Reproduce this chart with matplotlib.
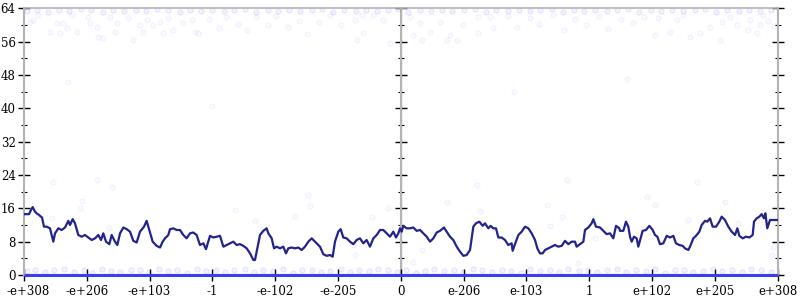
import matplotlib
matplotlib.use("Agg")
import matplotlib.pyplot as plt
import matplotlib.transforms as mtransforms
import numpy as np

# ---------------- data ----------------
tick_pos = [-6, -5, -4, -3, -2, -1, 0, 1, 2, 3, 4, 5, 6]
tick_labels = ["-e+308", "-e+206", "-e+103", "-1", "-e-102", "-e-205", "0",
               "e-206", "e-103", "1", "e+102", "e+205", "e+308"]
y_ticks = [0, 8, 16, 24, 32, 40, 48, 56, 64]

line_x = [-6.000, -5.920, -5.889, -5.862, -5.825, -5.798, -5.761, -5.713, -5.682, -5.639,
          -5.586, -5.533, -5.506, -5.453, -5.400, -5.347, -5.294, -5.268, -5.225, -5.188,
          -5.135, -5.082, -5.029, -4.976, -4.922, -4.869, -4.816, -4.774, -4.737, -4.694,
          -4.641, -4.604, -4.551, -4.514, -4.471, -4.418, -4.365, -4.312, -4.259, -4.206,
          -4.153, -4.089, -4.047, -4.004, -3.951, -3.888, -3.834, -3.792, -3.755, -3.702,
          -3.675, -3.622, -3.569, -3.516, -3.463, -3.410, -3.357, -3.304, -3.251, -3.198,
          -3.144, -3.102, -3.065, -3.038, -2.985, -2.932, -2.879, -2.826, -2.773, -2.720,
          -2.667, -2.614, -2.561, -2.508, -2.454, -2.401, -2.348, -2.322, -2.285, -2.242,
          -2.189, -2.136, -2.109, -2.056, -2.019, -1.977, -1.924, -1.871, -1.828, -1.791,
          -1.738, -1.685, -1.632, -1.579, -1.526, -1.472, -1.419, -1.366, -1.313,
          -1.287, -1.234, -1.180, -1.127, -1.085, -1.048, -0.995, -0.958, -0.915, -0.862,
          -0.809, -0.756, -0.703, -0.650, -0.597, -0.544, -0.491, -0.437, -0.384, -0.331,
          -0.278, -0.225, -0.172, -0.119, -0.076, -0.039, -0.013, 0.014, 0.040, 0.093,
          0.146, 0.199, 0.253, 0.306, 0.359, 0.412, 0.465, 0.518, 0.571, 0.624,
          0.688, 0.730, 0.783, 0.836, 0.890, 0.943, 0.996, 1.049,
          1.102, 1.155, 1.197, 1.251, 1.304, 1.341, 1.394, 1.431, 1.473, 1.516,
          1.553, 1.606, 1.659, 1.712, 1.765, 1.781, 1.818, 1.872, 1.925, 1.978,
          2.031, 2.084, 2.137, 2.174, 2.216, 2.259, 2.296, 2.349, 2.402, 2.455,
          2.508, 2.562, 2.615, 2.668, 2.721, 2.774, 2.800, 2.853, 2.907, 2.933,
          2.986, 3.039, 3.066, 3.108, 3.172, 3.225, 3.278, 3.331, 3.384, 3.427, 3.480,
          3.490, 3.543, 3.586, 3.623, 3.650, 3.676, 3.713, 3.756, 3.782, 3.819,
          3.851, 3.904, 3.958, 4.011, 4.048, 4.085, 4.127, 4.180, 4.234, 4.287,
          4.340, 4.382, 4.435, 4.488, 4.525, 4.579, 4.616, 4.658, 4.701, 4.754,
          4.791, 4.844, 4.881, 4.924, 4.966, 5.019, 5.072, 5.109, 5.162, 5.215,
          5.269, 5.322, 5.359, 5.391, 5.444, 5.497, 5.550, 5.603, 5.624, 5.667,
          5.709, 5.746, 5.783, 5.805, 5.836, 5.879, 5.932, 6.000]
line_y = [14.6, 14.6, 15.6, 16.3, 15.2, 14.8, 14.4, 13.8, 11.6, 11.6,
          11.2, 8.0, 10.0, 11.2, 10.8, 11.4, 13.0, 12.0, 13.4, 12.4,
          9.6, 9.2, 9.6, 9.0, 8.4, 8.8, 9.6, 8.4, 10.0, 8.0,
          7.4, 9.6, 8.0, 7.2, 10.0, 11.4, 11.0, 10.4, 8.2, 7.8,
          10.4, 11.6, 13.0, 10.8, 8.0, 7.0, 6.6, 8.0, 8.8, 9.6,
          11.0, 11.2, 10.8, 10.8, 9.6, 8.8, 10.0, 10.2, 9.6, 7.2,
          7.6, 6.2, 8.0, 9.4, 9.0, 9.2, 9.4, 6.8, 7.2, 7.6,
          8.0, 7.2, 7.4, 7.0, 6.4, 5.2, 3.6, 3.6, 6.4, 9.6,
          10.6, 11.2, 10.0, 8.8, 6.4, 6.8, 6.4, 6.8, 5.2, 6.4,
          6.6, 6.4, 6.6, 6.0, 6.8, 8.0, 8.8, 8.0, 7.2,
          6.8, 5.0, 4.6, 4.8, 4.4, 8.0, 10.4, 11.0, 9.0, 8.8,
          8.0, 7.4, 8.4, 8.8, 7.6, 8.4, 6.8, 8.8, 9.6, 10.8,
          10.8, 10.0, 9.2, 10.4, 9.0, 10.0, 11.2, 10.4, 11.8, 11.2,
          11.2, 11.4, 10.6, 10.8, 10.0, 9.2, 8.0, 8.8, 10.2, 10.6,
          11.4, 10.4, 9.2, 8.4, 6.8, 5.6, 4.6, 4.8,
          6.0, 11.6, 12.4, 12.8, 11.8, 12.4, 11.2, 11.8, 11.2, 11.2,
          9.0, 9.0, 8.4, 7.2, 7.6, 5.8, 7.4, 9.6, 10.4, 11.6,
          11.2, 10.0, 8.4, 6.4, 5.2, 5.2, 6.0, 6.4, 6.8, 7.2,
          6.8, 7.0, 8.2, 7.4, 8.0, 8.0, 6.8, 7.4, 8.0, 10.8,
          11.4, 12.4, 13.4, 11.6, 11.4, 10.6, 9.8, 10.0, 8.8, 11.8, 11.2,
          10.6, 10.6, 12.8, 11.6, 9.2, 8.0, 9.2, 8.8, 6.8, 8.8,
          10.6, 10.8, 11.8, 10.8, 9.6, 9.2, 7.4, 7.6, 9.4, 9.0,
          9.4, 7.6, 7.2, 7.0, 6.4, 6.0, 7.2, 8.8, 9.4, 10.4,
          12.0, 13.0, 12.8, 13.6, 11.6, 11.6, 12.8, 14.0, 13.2, 11.6,
          10.4, 9.6, 11.2, 9.4, 8.8, 9.2, 9.0, 9.6, 12.8, 13.6,
          14.0, 14.6, 13.6, 14.8, 11.2, 13.2, 13.2, 13.2]

# individual samples (faint dots): near the top
top_x = [-5.90, -5.86, -5.78, -5.59, -5.47, -5.43, -5.38, -5.32, -5.24, -5.16,
         -4.98, -4.95, -4.84, -4.82, -4.74, -4.63, -4.52, -4.55, -4.34, -4.26,
         -4.15, -4.11, -4.04, -3.95, -3.83, -3.79, -3.71, -3.63, -3.47, -3.32,
         -3.28, -3.23, -3.05, -2.90, -2.78, -2.60, -2.45, -2.30, -2.12, -1.98,
         -1.80, -1.62, -1.50, -1.30, -1.12, -0.95, -0.73, -0.62, -0.60, -0.44,
         -0.28, -0.70, -0.17, 0.15, 0.31, 0.19, 0.34, 0.46, 0.62, 0.78,
         0.74, 0.89, 0.99, 1.23, 1.42, 1.23, 1.47, 1.70, 1.85, 2.05,
         2.20, 2.42, 2.60, 2.78, 2.95, 3.15, 3.30, 3.50, 3.70, 3.88,
         4.05, 4.10, 4.29, 4.40, 4.49, 4.61, 4.76, 4.92, 5.08, 5.11,
         5.24, 5.35, 5.53, 5.56, 5.67, 5.72, 5.77, 5.85, 5.95]
top_y = [60.7, 61.2, 62.4, 58.3, 60.5, 58.1, 60.5, 59.3, 62.4, 58.3,
         61.9, 60.5, 59.5, 57.1, 56.9, 61.9, 60.5, 58.3, 61.7, 56.4,
         60.0, 58.3, 61.2, 60.0, 60.7, 58.1, 61.7, 58.8, 60.5, 61.2,
         58.3, 58.1, 61.5, 59.2, 62.0, 60.3, 58.7, 61.8, 60.1, 62.2,
         59.6, 61.0, 57.8, 60.8, 62.3, 59.9, 61.2, 62.4, 58.1, 62.4,
         61.2, 56.4, 55.7, 61.9, 60.5, 57.6, 56.4, 58.3, 60.7, 57.6,
         56.4, 56.4, 60.0, 61.9, 61.9, 58.1, 59.3, 62.1, 59.4, 61.6,
         60.2, 62.3, 58.9, 61.4, 60.0, 62.2, 59.1, 61.5, 60.4, 62.0,
         57.6, 61.7, 58.3, 61.2, 62.4, 57.1, 58.1, 59.5, 56.4, 60.7,
         61.9, 60.0, 58.8, 61.2, 58.1, 60.0, 62.4, 61.0, 59.8]

# dense band right under 64
band_hi_x = [-5.95, -5.80, -5.62, -5.45, -5.28, -5.10, -4.93, -4.75, -4.58, -4.40,
             -4.22, -4.05, -3.88, -3.70, -3.52, -3.35, -3.18, -3.00, -2.82, -2.65,
             -2.48, -2.30, -2.12, -1.95, -1.78, -1.60, -1.42, -1.25, -1.08, -0.90,
             -0.72, -0.55, -0.38, -0.20, -0.05, 0.12, 0.30, 0.48, 0.65, 0.82,
             1.00, 1.18, 1.35, 1.52, 1.70, 1.88, 2.05, 2.22, 2.40, 2.58,
             2.75, 2.92, 3.10, 3.28, 3.45, 3.62, 3.80, 3.98, 4.15, 4.32,
             4.50, 4.68, 4.85, 5.02, 5.20, 5.38, 5.55, 5.72, 5.90]
band_hi_y = [63.4, 63.7, 63.2, 63.6, 63.3, 63.8, 63.5, 63.2, 63.7, 63.4,
             63.6, 63.3, 63.8, 63.5, 63.2, 63.6, 63.4, 63.7, 63.3, 63.5,
             63.8, 63.2, 63.6, 63.4, 63.7, 63.3, 63.5, 63.8, 63.2, 63.6,
             63.4, 63.7, 63.3, 63.5, 63.8, 63.2, 63.6, 63.4, 63.7, 63.3,
             63.5, 63.8, 63.2, 63.6, 63.4, 63.7, 63.3, 63.5, 63.8, 63.2,
             63.6, 63.4, 63.7, 63.3, 63.5, 63.8, 63.2, 63.6, 63.4, 63.7,
             63.3, 63.5, 63.8, 63.2, 63.6, 63.4, 63.7, 63.3, 63.5]

# sparse samples in the middle range
mid_x = [-5.08, -4.84, -4.60, -5.54, -5.55, -4.65, -5.11, -2.64, -1.48, -1.45,
         -2.32, -1.68, -0.46, -0.76, -0.20, 0.74, 0.34, -0.73, 1.21, 1.26,
         2.65, 2.33, 2.57, 2.38, 3.09, 4.72, 3.92, 4.05, 5.16, 4.57,
         5.37, 5.93, 5.91, 0.19, 2.82, -5.30, 3.60, -3.00, 1.80]
mid_y = [17.8, 22.8, 21.1, 22.3, 13.7, 11.3, 16.1, 15.6, 19.2, 16.6,
         13.0, 14.2, 13.9, 7.2, 16.1, 17.5, 6.0, 4.8, 21.6, 15.4,
         22.8, 16.8, 13.9, 11.8, 8.9, 22.3, 18.7, 16.8, 17.5, 13.2,
         12.5, 6.7, 4.8, 3.1, 2.9, 46.3, 47.0, 40.5, 44.0]

# dense band right above 0
band_lo_x = [-5.95, -5.82, -5.66, -5.52, -5.37, -5.21, -5.05, -4.92, -4.76, -4.61,
             -4.47, -4.30, -4.16, -4.01, -3.85, -3.70, -3.56, -3.40, -3.25, -3.10,
             -2.94, -2.80, -2.65, -2.48, -2.33, -2.19, -2.03, -1.88, -1.72, -1.57,
             -1.42, -1.27, -1.12, -0.96, -0.81, -0.66, -0.50, -0.36, -0.20, -0.06,
             0.08, 0.24, 0.39, 0.53, 0.69, 0.84, 0.99, 1.15, 1.30, 1.45,
             1.61, 1.76, 1.91, 2.06, 2.22, 2.37, 2.52, 2.67, 2.83, 2.98,
             3.13, 3.28, 3.44, 3.59, 3.74, 3.90, 4.05, 4.20, 4.36, 4.51,
             4.66, 4.82, 4.97, 5.12, 5.28, 5.43, 5.58, 5.74, 5.89]
band_lo_y = [0.9, 1.3, 0.7, 1.1, 1.5, 0.8, 1.2, 0.6, 1.4, 1.0,
             0.8, 1.3, 1.1, 0.7, 1.5, 0.9, 1.2, 0.6, 1.4, 1.0,
             1.3, 0.8, 1.1, 1.5, 0.7, 1.2, 0.9, 1.4, 0.6, 1.1,
             1.3, 0.8, 1.0, 1.5, 0.7, 1.2, 0.9, 1.4, 1.1, 0.8,
             1.3, 0.6, 1.0, 1.5, 0.9, 1.2, 0.7, 1.4, 1.1, 0.8,
             1.3, 1.0, 0.6, 1.5, 0.9, 1.2, 0.7, 1.4, 1.0, 1.3,
             0.8, 1.1, 1.5, 0.7, 1.2, 0.9, 1.4, 0.6, 1.1, 1.3,
             0.8, 1.0, 1.5, 0.9, 1.2, 0.7, 1.4, 1.1, 0.8]

zero_x = [-6, 6]
zero_y = [0, 0]

# ---------------- plot ----------------
plt.rcParams['font.family'] = ['DejaVu Serif']
fig = plt.figure(figsize=(8, 3), dpi=100)
ax = fig.add_axes([0.030, 0.0833, 0.942, 0.889])

faint = dict(s=14, facecolor=(0.4, 0.4, 1.0, 0.035), edgecolor=(0.3, 0.3, 1.0, 0.07),
             linewidths=0.6, zorder=2)
ax.scatter(top_x, top_y, **faint)
ax.scatter(mid_x, mid_y, **faint)
band = dict(s=14, facecolor=(0.4, 0.4, 1.0, 0.09), edgecolor=(0.3, 0.3, 1.0, 0.15),
            linewidths=0.6, zorder=2)
ax.scatter(band_hi_x, band_hi_y, **band)
ax.scatter(band_lo_x, band_lo_y, **band)
ax.plot(zero_x, zero_y, color="#3c3cf0", lw=2.2, solid_capstyle='butt', zorder=3,
        clip_on=False)
ax.plot(line_x, line_y, color="#23238c", lw=1.6, zorder=4)

ax.set_xlim(-6, 6)
ax.set_ylim(0, 64)

ax.set_xticks(tick_pos)
ax.set_xticklabels(tick_labels)
ax.set_yticks(y_ticks)
ax.set_yticks(np.arange(4, 64, 8), minor=True)

gray = "#b4b4b4"
for s in ["left", "right", "top", "bottom"]:
    ax.spines[s].set_color(gray)
    ax.spines[s].set_linewidth(1.5)
ax.spines["top"].set_linewidth(1.2)

ax.tick_params(axis='y', which='major', direction='inout', length=8, width=1.0,
               color='black', labelsize=8.5, pad=2, right=True)
ax.tick_params(axis='y', which='minor', direction='inout', length=5, width=0.8,
               color='black', right=True)
ax.tick_params(axis='x', which='major', direction='inout', length=8, width=1.0,
               color='black', labelsize=8.5, pad=3)

# keep the outermost labels inside the canvas
xl = ax.get_xticklabels()
xl[0].set_transform(xl[0].get_transform() +
                    mtransforms.ScaledTranslation(3 / 72, 0, fig.dpi_scale_trans))

ax.axvline(0, color=gray, lw=1.5, zorder=1)
sec = ax.secondary_yaxis(0.5)
sec.set_yticks(y_ticks)
sec.set_yticks(np.arange(4, 64, 8), minor=True)
sec.set_yticklabels([])
sec.spines['left'].set_visible(False)
sec.tick_params(axis='y', which='major', direction='inout', length=8, width=1.0, color='black')
sec.tick_params(axis='y', which='minor', direction='inout', length=5, width=0.8, color='black')

fig.savefig("out.png", dpi=100)
